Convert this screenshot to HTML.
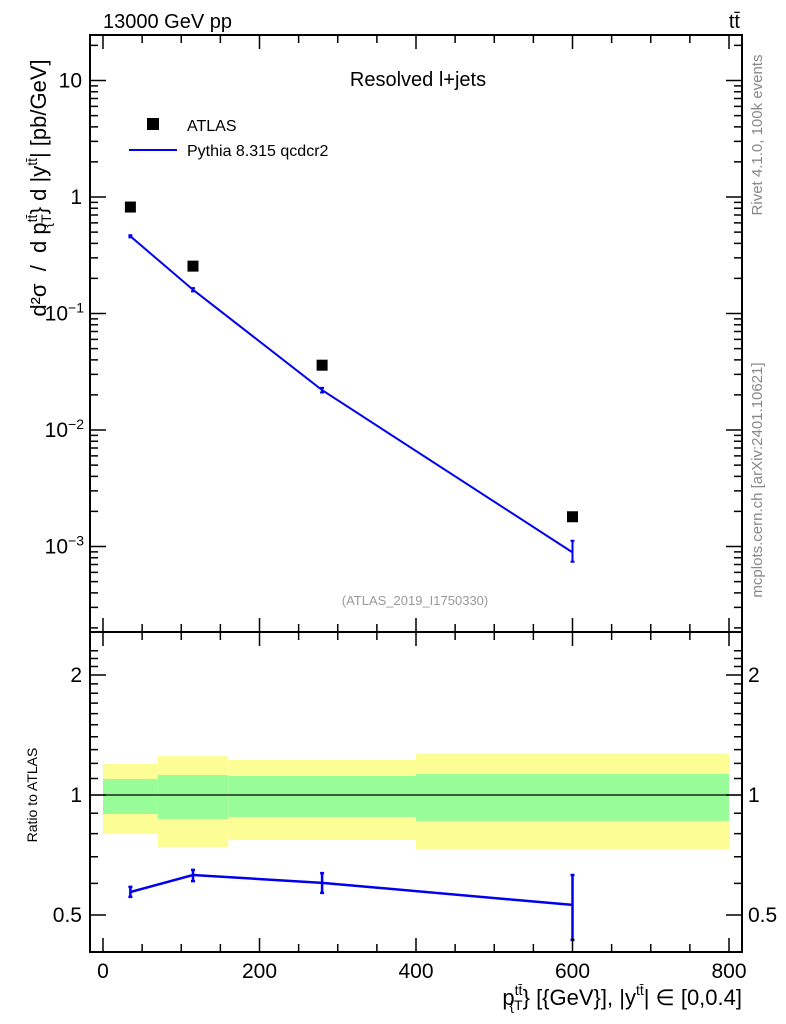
<!DOCTYPE html>
<html><head><meta charset="utf-8"><style>
html,body{margin:0;padding:0;background:#fff;overflow:hidden;}
svg{display:block;font-family:"Liberation Sans",sans-serif;}
</style></head><body>
<svg id="c" width="786" height="1024" viewBox="0 0 786 1024" xmlns="http://www.w3.org/2000/svg">
<rect x="0" y="0" width="786" height="1024" fill="#fff"/>
<g id="bands"></g>
<g id="marks"></g>
<g id="axes"></g>
<text x="103" y="28" font-size="20">13000 GeV pp</text>
<text x="740" y="28" font-size="20" text-anchor="end">tt̄</text>
<text x="418" y="86" font-size="20" text-anchor="middle">Resolved l+jets</text>
<rect x="147" y="118" width="12" height="12" fill="#000"/>
<text x="187" y="131" font-size="16">ATLAS</text>
<line x1="129" y1="150" x2="177" y2="150" stroke="#0000ee" stroke-width="2"/>
<text x="187" y="156" font-size="16">Pythia 8.315 qcdcr2</text>
<text x="415" y="605" font-size="13" fill="#999" text-anchor="middle">(ATLAS_2019_I1750330)</text>
<text transform="translate(762,135) rotate(-90)" font-size="15" fill="#888" text-anchor="middle">Rivet 4.1.0,  100k events</text>
<text transform="translate(762,480) rotate(-90)" font-size="15" fill="#888" text-anchor="middle">mcplots.cern.ch [arXiv:2401.10621]</text>
<text transform="translate(46,188) rotate(-90)" font-size="22" text-anchor="middle" xml:space="preserve">d²σ  /  d p<tspan font-size="14" dy="-9">tt̄</tspan><tspan font-size="14" dy="14" dx="-13">{T</tspan><tspan dy="-5">} d |y</tspan><tspan font-size="14" dy="-9">tt̄</tspan><tspan dy="9">| [pb/GeV]</tspan></text>
<text transform="translate(37,795) rotate(-90)" font-size="14" text-anchor="middle">Ratio to ATLAS</text>
<text x="742" y="1005" font-size="22" text-anchor="end">p<tspan font-size="14" dy="-10">tt̄</tspan><tspan font-size="14" dy="15" dx="-13">{T</tspan><tspan dy="-5">} [{GeV}], |y</tspan><tspan font-size="14" dy="-10">tt̄</tspan><tspan dy="10">| ∈ [0,0.4]</tspan></text>
</svg>
<script>
const xCenters=[35,115,280,600];
const atlasVals=[0.82,0.255,0.036,0.0018];
const mcVals=[0.46,0.16,0.022,0.00089];
const mcErrLo=[0.45,0.155,0.021,0.00074];
const mcErrHi=[0.47,0.165,0.023,0.00112];
const ratioVals=[0.571,0.630,0.602,0.53];
const ratioLo=[0.555,0.608,0.568,0.433];
const ratioHi=[0.588,0.649,0.637,0.630];
const binEdges=[0,70,160,400,800];
const yellowHi=[1.196,1.252,1.224,1.267];
const yellowLo=[0.798,0.741,0.771,0.732];
const greenHi=[1.097,1.122,1.116,1.129];
const greenLo=[0.896,0.870,0.881,0.861];
const xTicks=[0,200,400,600,800];
const yTicks=[10,1,0.1,0.01,0.001];
const yTickBase=["10","1","10","10","10"];
const yTickExp=["","","−1","−2","−3"];
const rTicks=[0.5,1,2];
const rTickLabels=["0.5","1","2"];

const L=90,R=742,T=35,M=632,B=952;
const X=v=>103+v*(729-103)/800;
const Y=v=>197-116.5*Math.log10(v);
const RY=v=>795-120*Math.log2(v);
const NS="http://www.w3.org/2000/svg";
function mk(parent,tag,attrs){const e=document.createElementNS(NS,tag);for(const k in attrs)e.setAttribute(k,attrs[k]);document.getElementById(parent).appendChild(e);return e;}

for(let i=0;i<binEdges.length-1;i++){
  const y=mk('bands','rect',{x:X(binEdges[i]),y:RY(yellowHi[i]),width:X(binEdges[i+1])-X(binEdges[i]),height:RY(yellowLo[i])-RY(yellowHi[i]),fill:'#fdfd96'});
  
  
  const g=mk('bands','rect',{x:X(binEdges[i]),y:RY(greenHi[i]),width:X(binEdges[i+1])-X(binEdges[i]),height:RY(greenLo[i])-RY(greenHi[i]),fill:'#98fc98'});
  
  
}
const one=mk('bands','line',{x1:L,x2:R,y1:RY(1),y2:RY(1),stroke:'#000','stroke-width':1.2});



const mcl=mk('marks','polyline',{points:xCenters.map((x,i)=>X(x)+','+Y(mcVals[i])).join(' '),fill:'none',stroke:'#0000ee','stroke-width':2});


const rl=mk('marks','polyline',{points:xCenters.map((x,i)=>X(x)+','+RY(ratioVals[i])).join(' '),fill:'none',stroke:'#0000ee','stroke-width':2.5});


xCenters.forEach((x,i)=>{
  const e=mk('marks','path',{d:`M${X(x)},${Y(mcErrLo[i])}V${Y(mcErrHi[i])}M${X(x)-2},${Y(mcErrLo[i])}h4M${X(x)-2},${Y(mcErrHi[i])}h4`,stroke:'#0000ee','stroke-width':2,fill:'none'});
  
  
  const r=mk('marks','path',{d:`M${X(x)},${RY(ratioLo[i])}V${RY(ratioHi[i])}M${X(x)-2},${RY(ratioLo[i])}h4M${X(x)-2},${RY(ratioHi[i])}h4`,stroke:'#0000ee','stroke-width':2.5,fill:'none'});
  
  
  const p=mk('marks','rect',{x:X(x)-5.5,y:Y(atlasVals[i])-5.5,width:11,height:11,fill:'#000'});
  
  
});

[[T,M],[M,B]].forEach(([a,b])=>{
  const f=mk('axes','rect',{x:L,y:a,width:R-L,height:b-a,fill:'none',stroke:'#000','stroke-width':2});
  
  
});
let d='';
for(let v=0;v<=800;v+=50){const maj=v%200===0,len=maj?14:8,x=X(v);
  d+=`M${x},${T}v${len}M${x},${M}v${-len}M${x},${M}v${len}M${x},${B}v${-len}`;}
for(let e=-4;e<=1;e++){for(let k=1;k<=9;k++){const v=k*Math.pow(10,e),y=Y(v);if(y<T||y>M)continue;const len=k===1?16:8;
  d+=`M${L},${y}h${len}M${R},${y}h${-len}`;}}
for(let v=0.4;v<=2.35;v+=0.1){const y=RY(v);if(y<M||y>B)continue;const maj=[0.5,1,2].some(t=>Math.abs(t-v)<1e-6);const len=maj?16:8;
  d+=`M${L},${y}h${len}M${R},${y}h${-len}`;}
const tk=mk('axes','path',{d:d,stroke:'#000','stroke-width':1.5,fill:'none'});


xTicks.forEach(v=>{const t=mk('axes','text',{x:X(v),y:978,'font-size':21,'text-anchor':'middle'});t.textContent=v;
  
  });
yTicks.forEach((v,i)=>{const t=mk('axes','text',{x:82,y:Y(v)+7,'font-size':21,'text-anchor':'end'});
  t.textContent=yTickBase[i];
  if(yTickExp[i]){const ts=document.createElementNS(NS,'tspan');ts.setAttribute('font-size','14');ts.setAttribute('dy','-8');ts.textContent=yTickExp[i];t.appendChild(ts);t.setAttribute('x',84);}
  
  });
rTicks.forEach((v,i)=>{[82,748].forEach(x=>{const t=mk('axes','text',{x:x,y:RY(v)+7,'font-size':21,'text-anchor':x<100?'end':'start'});t.textContent=rTickLabels[i];
  
  });});
</script>
</body></html>
